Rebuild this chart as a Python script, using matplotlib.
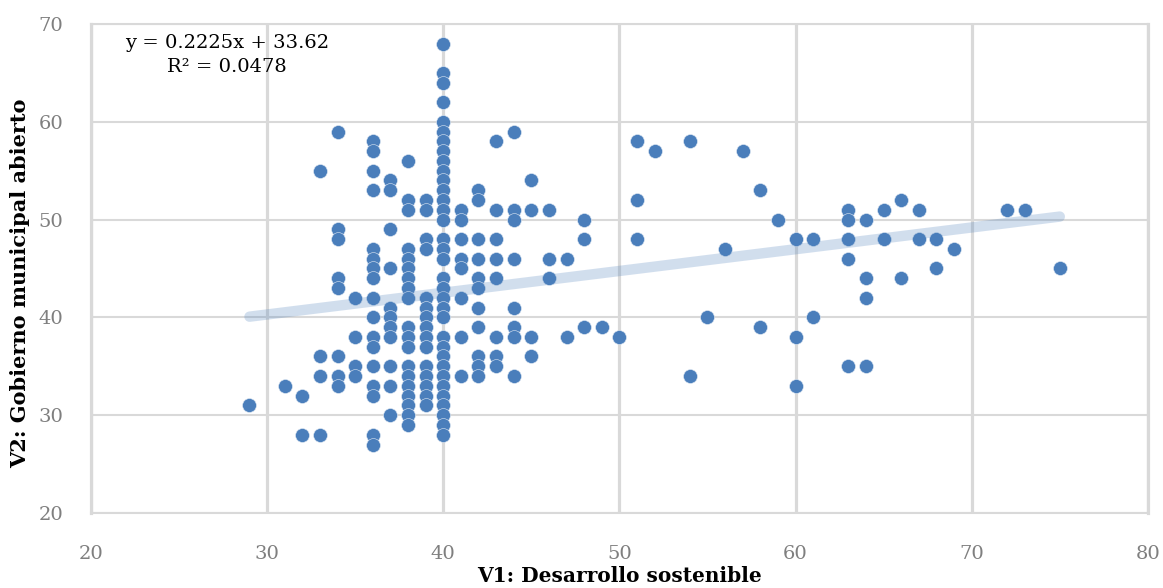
import numpy as np
import matplotlib.pyplot as plt

plt.rcParams['font.family'] = ['DejaVu Serif']

# V1 value of each column and the V2 values stacked on it
v1_cols = [29, 31, 32, 33, 34, 35, 36, 37, 38, 39, 40, 41, 42, 43, 44, 45, 46, 47, 48, 49,
           50, 51, 52, 54, 55, 56, 57, 58, 59, 60, 61, 63, 64, 65, 66, 67, 68, 69, 72, 73, 75]
v2_cols = [
    [31],
    [33],
    [32, 28],
    [55, 36, 34, 28],
    [59, 49, 48, 44, 43, 36, 34, 33],
    [42, 38, 35, 34],
    [58, 57, 55, 53, 47, 46, 45, 44, 42, 40, 38, 37, 35, 33, 32, 28, 27],
    [54, 53, 49, 45, 41, 40, 39, 38, 35, 33, 30],
    [56, 52, 51, 47, 46, 45, 44, 43, 42, 39, 38, 37, 35, 34, 33, 32, 31, 30, 29],
    [52, 51, 48, 47, 42, 41, 40, 39, 38, 37, 35, 34, 33, 32, 31],
    [68, 65, 64, 62, 60, 59, 58, 57, 56, 55, 54, 53, 52, 51, 50, 48, 47, 46, 44, 43, 42, 41, 40,
     38, 37, 36, 35, 34, 33, 32, 31, 30, 29, 28],
    [51, 50, 48, 46, 45, 42, 38, 34],
    [53, 52, 48, 46, 44, 43, 41, 39, 36, 35, 34],
    [58, 51, 48, 46, 44, 38, 36, 35],
    [59, 51, 50, 46, 41, 39, 38, 34],
    [54, 51, 38, 36],
    [51, 46, 44],
    [46, 38],
    [50, 48, 39],
    [39],
    [38],
    [58, 52, 48],
    [57],
    [58, 34],
    [40],
    [47],
    [57],
    [53, 39],
    [50],
    [48, 38, 33],
    [48, 40],
    [51, 50, 48, 46, 35],
    [50, 44, 42, 35],
    [51, 48],
    [52, 44],
    [51, 48],
    [48, 45],
    [47],
    [51],
    [51],
    [45],
]

# trend line as printed on the chart
trend_slope = 0.2225
trend_intercept = 33.62
trend_r2 = 0.0478

v1 = np.concatenate([[c] * len(ys) for c, ys in zip(v1_cols, v2_cols)])
v2 = np.concatenate(v2_cols)

fig = plt.figure(figsize=(11.63, 5.88), dpi=100)
ax = fig.add_axes([0.0782, 0.1276, 0.9088, 0.8316])

ax.set_xlim(20, 80)
ax.set_ylim(20, 70)
ax.set_xticks(np.arange(20, 81, 10))
ax.set_yticks(np.arange(20, 71, 10))

ax.grid(axis='x', color='#d9d9d9', linewidth=2.3)
ax.grid(axis='y', color='#d9d9d9', linewidth=1.5)
ax.set_axisbelow(True)
for side in ['left', 'right']:
    ax.spines[side].set_color('#d9d9d9')
    ax.spines[side].set_linewidth(2.3)
for side in ['top', 'bottom']:
    ax.spines[side].set_color('#d9d9d9')
    ax.spines[side].set_linewidth(1.5)
ax.tick_params(length=0, labelsize=14, labelcolor='#7f7f7f')
ax.tick_params(axis='y', pad=20)
ax.tick_params(axis='x', pad=23)

ax.scatter(v1, v2, s=100, color='#4a7ebb', edgecolors='#dfe8f3', linewidths=0.4, zorder=3)

tx = np.array([v1.min(), v1.max()])
ax.plot(tx, trend_slope * tx + trend_intercept, color='#4a7ebb', alpha=0.25,
        linewidth=7.5, solid_capstyle='round', zorder=4)

ax.text(0.129, 0.98, 'y = %.4fx + %.2f\nR² = %.4f' % (trend_slope, trend_intercept, trend_r2),
        transform=ax.transAxes, ha='center', va='top', fontsize=14, linespacing=1.45)

ax.set_xlabel('V1: Desarrollo sostenible', fontsize=14.5, fontweight='bold', labelpad=2)
ax.set_ylabel('V2: Gobierno municipal abierto', fontsize=15, fontweight='bold', labelpad=6)
ax.yaxis.set_label_coords(-0.058, 0.47)

plt.savefig('out.png', dpi=100)
